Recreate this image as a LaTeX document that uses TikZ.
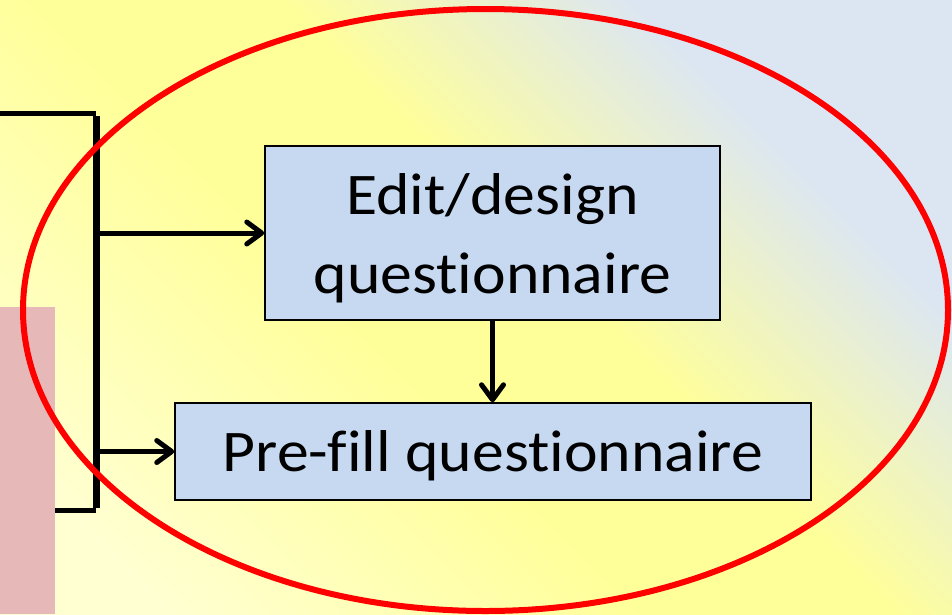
\documentclass[tikz,border=0pt]{standalone}
\usepackage{fontspec}
\setmainfont{Carlito}[Ligatures={NoCommon}, FakeStretch=1.08]
\usetikzlibrary{arrows.meta,shapes.geometric}
\definecolor{paleyel}{HTML}{FFFFD2}
\definecolor{yel}{HTML}{FFFF99}
\definecolor{lblue}{HTML}{DCE6F2}
\definecolor{boxblue}{HTML}{C6D9F1}
\definecolor{pinkbar}{HTML}{E6B9B8}
\pgfdeclarehorizontalshading{bgshade}{100bp}{color(0bp)=(paleyel); color(22bp)=(paleyel); color(44bp)=(yel); color(55bp)=(yel); color(71bp)=(lblue); color(100bp)=(lblue)}
\tikzset{
  procbox/.style={draw=black, line width=1.5pt, fill=boxblue, inner sep=0pt, align=center,
    font=\fontsize{59}{79}\selectfont},
  flowarrow/.style={line width=5pt, -{Straight Barb[length=15pt, width=22pt, line cap=round, line join=round]}},
  hilite/.style={draw=red, line width=6pt}
}
\begin{document}
\begin{tikzpicture}[x=1pt, y=-1pt]
\useasboundingbox (0,0) rectangle (952,614);
\shade[shading=bgshade, shading angle=45] (0,0) rectangle (952,614);
\fill[pinkbar] (0,307) rectangle (55,614);
% bracket
\coordinate (b1) at (0,113);
\coordinate (b2) at (96,113);
\coordinate (b3) at (96,510);
\coordinate (b4) at (55,510);
\coordinate (a1) at (96,233);
\coordinate (a2) at (96,451.5);
\draw[line width=5pt] (b1) -- (b2);
\draw[line width=7pt] ([yshift=-2.5pt]b2) -- ([yshift=2.5pt]b3);
\draw[line width=5pt] (b3) -- (b4);
% boxes
\node[procbox, minimum width=455pt, minimum height=174pt, text height=120pt, text depth=0pt]
  (edit) at (492.5,233) {Edit/design\\questionnaire};
\node[procbox, minimum width=636pt, minimum height=97pt, text height=39pt, text depth=0pt]
  (prefill) at (493,451.5) {Pre-fill questionnaire};
% arrows
\draw[flowarrow] (a1) -- (edit.west);
\draw[flowarrow] (a2) -- (prefill.west);
\draw[flowarrow] (edit.south) -- (edit.south |- prefill.north);
% ellipse
\node[hilite, ellipse, minimum width=925pt, minimum height=602pt, inner sep=0pt] (ring) at (485.5,310) {};
\end{tikzpicture}
\end{document}
